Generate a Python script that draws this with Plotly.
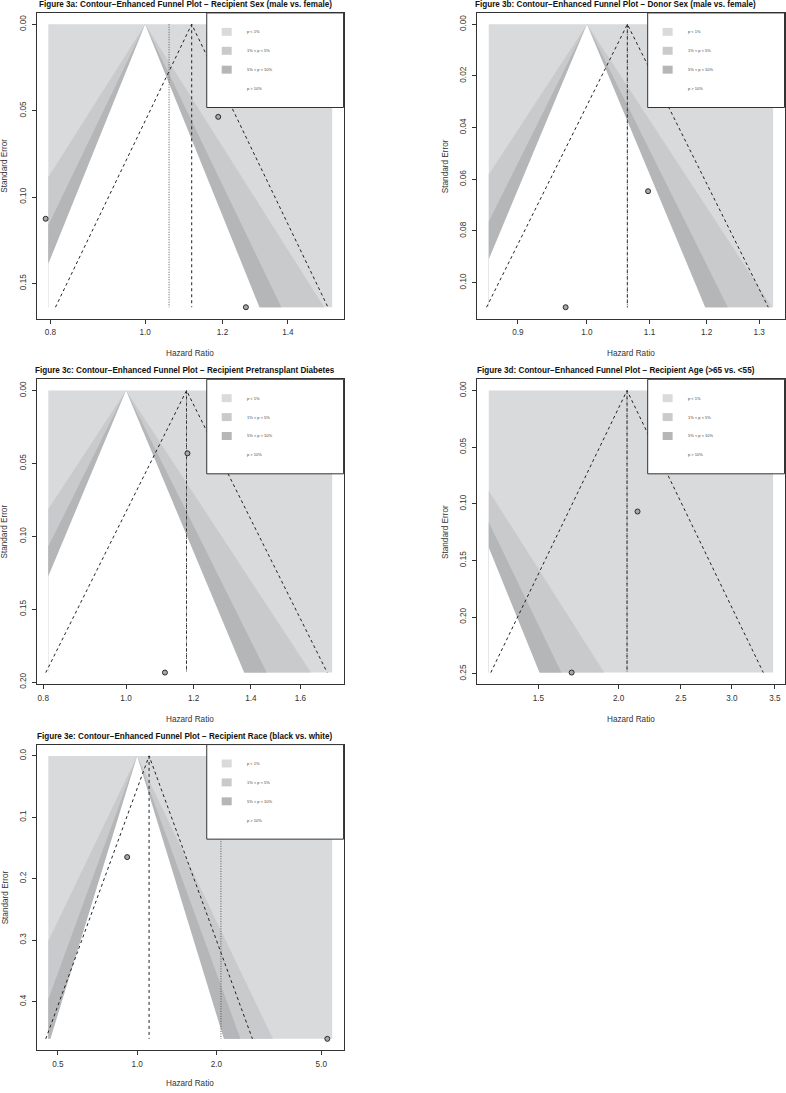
import math
import plotly.graph_objects as go

W, H = 786, 1093

# ---- values ----
panel_titles = [
    "Figure 3a: Contour\u2212Enhanced Funnel Plot \u2212 Recipient Sex (male vs. female)",
    "Figure 3b: Contour\u2212Enhanced Funnel Plot \u2212 Donor Sex (male vs. female)",
    "Figure 3c: Contour\u2212Enhanced Funnel Plot \u2212 Recipient Pretransplant Diabetes",
    "Figure 3d: Contour\u2212Enhanced Funnel Plot \u2212 Recipient Age (>65 vs. <55)",
    "Figure 3e: Contour\u2212Enhanced Funnel Plot \u2212 Recipient Race (black vs. white)",
]

# study hazard ratios and standard errors
a_hr = [0.791, 1.188, 1.268]
a_se = [0.1126, 0.0536, 0.1638]
b_hr = [0.968, 1.0976]
b_se = [0.1095, 0.0646]
c_hr = [1.180, 1.1105]
c_se = [0.0431, 0.1935]
d_hr = [2.14, 1.69]
d_se = [0.1068, 0.249]
e_hr = [0.9165, 5.27]
e_se = [0.1648, 0.4608]

# pooled estimates (fixed = dashed funnel, random = dotted line)
fixed_hr = [1.116, 1.0635, 1.177, 2.061, 1.110]
random_hr = [1.058, 1.0635, 1.177, 2.061, 2.080]

# shaded x-limits (HR)
xlims = [[0.796, 1.554], [0.861, 1.328], [0.811, 1.743], [1.256, 3.478], [0.460, 5.50]]

# ticks
x_ticks = [[0.8, 1.0, 1.2, 1.4], [0.9, 1.0, 1.1, 1.2, 1.3], [0.8, 1.0, 1.2, 1.4, 1.6],
           [1.5, 2.0, 2.5, 3.0, 3.5], [0.5, 1.0, 2.0, 5.0]]
y_ticks = [[0.00, 0.05, 0.10, 0.15], [0.00, 0.02, 0.04, 0.06, 0.08, 0.10],
           [0.00, 0.05, 0.10, 0.15, 0.20], [0.00, 0.05, 0.10, 0.15, 0.20, 0.25],
           [0.0, 0.1, 0.2, 0.3, 0.4]]
y_fmt = ["%.2f", "%.2f", "%.2f", "%.2f", "%.1f"]

legend_labels = ["p < 1%", "1% < p < 5%", "5% < p < 10%", "p > 10%"]
levels_z = [2.5758, 1.9600, 1.6449]          # 99, 95, 90
shade_back = "#d9dadc"
shade_cols = ["#c9cacc", "#b5b6b8", "#ffffff"]
legend_cols = [shade_back] + shade_cols

studies = [(a_hr, a_se), (b_hr, b_se), (c_hr, c_se), (d_hr, d_se), (e_hr, e_se)]

# plot boxes in pixels: x0, y0, x1, y1
boxes = [(37, 13, 344, 320), (478, 13, 785.5, 320), (37, 381, 344, 687),
         (478, 381, 785.5, 687), (37, 748, 344, 1055)]
title_cx = [185.5, 616.5, 185.5, 616.5, 185.5]

FONT = "Liberation Sans, Arial, Helvetica, sans-serif"


def clip_tri(z, smax, ulo, uhi):
    poly = [(0.0, 0.0), (z * smax, smax), (-z * smax, smax)]

    def clip(pts, keep, u0):
        out = []
        for i in range(len(pts)):
            p, q = pts[i - 1], pts[i]
            if keep(q):
                if not keep(p):
                    t = (u0 - p[0]) / (q[0] - p[0])
                    out.append((u0, p[1] + t * (q[1] - p[1])))
                out.append(q)
            elif keep(p):
                t = (u0 - p[0]) / (q[0] - p[0])
                out.append((u0, p[1] + t * (q[1] - p[1])))
        return out

    poly = clip(poly, lambda p: p[0] >= ulo, ulo)
    poly = clip(poly, lambda p: p[0] <= uhi, uhi)
    return poly


fig = go.Figure()
shapes = []
annotations = []

for k in range(5):
    hr, se = studies[k]
    smax = max(se)
    xlo, xhi = xlims[k]
    ulo, uhi = math.log(xlo), math.log(xhi)
    xr = "x" if k == 0 else f"x{k + 1}"
    yr = "y" if k == 0 else f"y{k + 1}"

    # background: p < 1%
    fig.add_trace(go.Scatter(x=[xlo, xhi, xhi, xlo], y=[0, 0, smax, smax], fill="toself",
                             fillcolor=shade_back, line=dict(width=0), mode="lines",
                             hoverinfo="skip", showlegend=False, xaxis=xr, yaxis=yr))
    for j, (z, col) in enumerate(zip(levels_z, shade_cols)):
        s_end = smax * 1.006 if j == 2 else smax
        pts = clip_tri(z, s_end, ulo, uhi)
        if not pts:
            continue
        fig.add_trace(go.Scatter(x=[math.exp(p[0]) for p in pts], y=[p[1] for p in pts],
                                 fill="toself", fillcolor=col, line=dict(width=0), mode="lines",
                                 hoverinfo="skip", showlegend=False, xaxis=xr, yaxis=yr))

    est = math.log(fixed_hr[k])
    # pseudo confidence funnel around the pooled estimate
    fig.add_trace(go.Scatter(x=[math.exp(est - 1.96 * smax), fixed_hr[k], math.exp(est + 1.96 * smax)],
                             y=[smax, 0, smax], mode="lines",
                             line=dict(color="#222222", width=1, dash="3px,3px"),
                             hoverinfo="skip", showlegend=False, xaxis=xr, yaxis=yr))
    fig.add_trace(go.Scatter(x=[fixed_hr[k], fixed_hr[k]], y=[0, smax], mode="lines",
                             line=dict(color="#222222", width=1, dash="3px,3px"),
                             hoverinfo="skip", showlegend=False, xaxis=xr, yaxis=yr))
    fig.add_trace(go.Scatter(x=[random_hr[k], random_hr[k]], y=[0, smax], mode="lines",
                             line=dict(color="#555555", width=1, dash="1px,1.5px"),
                             hoverinfo="skip", showlegend=False, xaxis=xr, yaxis=yr))

    # studies
    fig.add_trace(go.Scatter(x=hr, y=se, mode="markers",
                             marker=dict(symbol="circle", size=5, color="#a8a8a8",
                                         line=dict(color="#2a2a2a", width=1)),
                             showlegend=False, xaxis=xr, yaxis=yr))

    # axes
    x0, y0, x1, y1 = boxes[k]
    lr = math.log10(xhi) - math.log10(xlo)
    xname = "xaxis" if k == 0 else f"xaxis{k + 1}"
    yname = "yaxis" if k == 0 else f"yaxis{k + 1}"
    common = dict(showline=True, mirror=True, linecolor="#333333", linewidth=1,
                  ticks="outside", ticklen=4, tickwidth=1, tickcolor="#333333",
                  showgrid=False, zeroline=False, ticklabeloverflow="allow",
                  tickfont=dict(family=FONT, size=8.2, color="#333333"))
    fig.update_layout(**{
        xname: dict(type="log", domain=[x0 / W, x1 / W], anchor=yr,
                    range=[math.log10(xlo) - 0.04 * lr, math.log10(xhi) + 0.04 * lr],
                    tickvals=x_ticks[k], ticktext=["%.1f" % v for v in x_ticks[k]],
                    ticklabelstandoff=2, **common),
        yname: dict(domain=[1 - y1 / H, 1 - y0 / H], anchor=xr,
                    range=[smax * 1.04, -smax * 0.04],
                    tickvals=y_ticks[k], ticktext=[y_fmt[k] % v for v in y_ticks[k]],
                    tickangle=-90, ticklabelstandoff=3, **common),
    })

    # titles
    annotations.append(dict(text="<b>%s</b>" % panel_titles[k], x=title_cx[k] / W,
                            y=1 - (y0 - 8.5) / H, xref="paper", yref="paper",
                            xanchor="center", yanchor="middle", showarrow=False,
                            font=dict(family=FONT, size=8.15, color="#111111")))
    xt_y = min(y1 + 35.5, H - 5)
    annotations.append(dict(text="Hazard Ratio", x=(x0 + x1) / 2 / W, y=1 - xt_y / H,
                            xref="paper", yref="paper", xanchor="center", yanchor="middle",
                            showarrow=False, font=dict(family=FONT, size=8.2, color="#333333")))
    annotations.append(dict(text="Standard Error", x=(x0 - 32) / W, y=1 - (y0 + y1) / 2 / H,
                            xref="paper", yref="paper", xanchor="center", yanchor="middle",
                            textangle=-90, showarrow=False,
                            font=dict(family=FONT, size=8.2, color="#333333")))

    # legend box (top right)
    lx0, lx1 = x1 - 137, x1
    ly0, ly1 = y0, y0 + 95
    shapes.append(dict(type="rect", xref="paper", yref="paper", layer="above",
                       x0=lx0 / W, x1=lx1 / W, y0=1 - ly1 / H, y1=1 - ly0 / H,
                       fillcolor="white", line=dict(color="#333333", width=1)))
    for j, (lab, col) in enumerate(zip(legend_labels, legend_cols)):
        cy = y0 + 19 * (j + 1)
        shapes.append(dict(type="rect", xref="paper", yref="paper", layer="above",
                           x0=(x1 - 122) / W, x1=(x1 - 112) / W,
                           y0=1 - (cy + 4) / H, y1=1 - (cy - 4) / H,
                           fillcolor=col, line=dict(width=0)))
        annotations.append(dict(text=lab, x=(x1 - 99) / W, y=1 - cy / H, xref="paper", yref="paper",
                                xanchor="left", yanchor="middle", showarrow=False,
                                font=dict(family=FONT, size=4, color="#444444")))

fig.update_layout(width=W, height=H, margin=dict(l=0, r=0, t=0, b=0),
                  paper_bgcolor="white", plot_bgcolor="white",
                  shapes=shapes, annotations=annotations, showlegend=False)

fig.write_html("out.html", config={"displayModeBar": False},
               post_script="document.body.style.margin='0px';")
